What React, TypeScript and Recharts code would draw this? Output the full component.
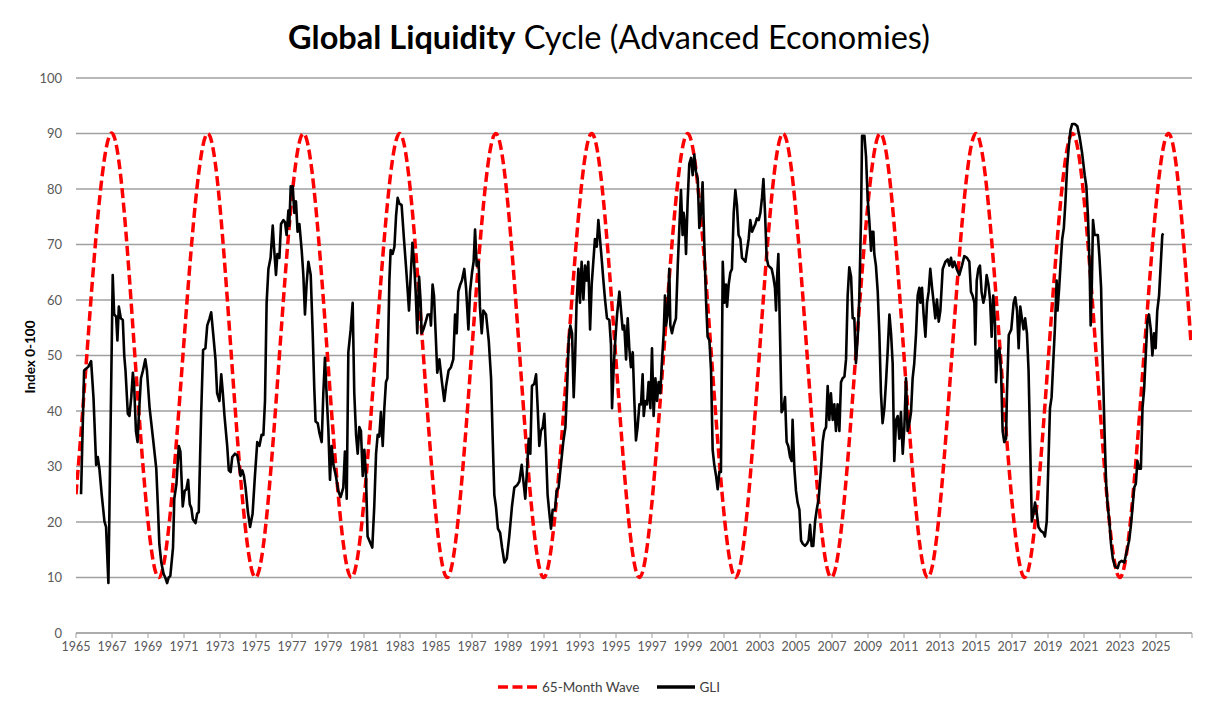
import { CartesianGrid, Line, LineChart, XAxis, YAxis } from 'recharts'

// Axis ticks
const X_TICKS = [
  1965, 1967, 1969, 1971, 1973, 1975, 1977, 1979, 1981, 1983, 1985, 1987, 1989,
  1991, 1993, 1995, 1997, 1999, 2001, 2003, 2005, 2007, 2009, 2011, 2013, 2015,
  2017, 2019, 2021, 2023, 2025, 2027,
]
const Y_TICKS = [0, 10, 20, 30, 40, 50, 60, 70, 80, 90, 100]

// 65-Month Wave: peaks, troughs and mid-crossings
const WAVE: [number, number][] = [
  [1965.0, 25], [1965.6, 50], [1966.93, 90], [1968.27, 50], [1969.6, 10],
  [1970.94, 50], [1972.32, 90], [1973.63, 50], [1974.97, 10], [1976.3, 50],
  [1977.63, 90], [1978.97, 50], [1980.3, 10], [1981.63, 50], [1982.98, 90],
  [1984.3, 50], [1985.62, 10], [1986.97, 50], [1988.32, 90], [1989.65, 50],
  [1990.98, 10], [1992.32, 50], [1993.65, 90], [1994.98, 50], [1996.3, 10],
  [1997.64, 50], [1998.98, 90], [2000.3, 50], [2001.64, 10], [2002.96, 50],
  [2004.28, 90], [2005.62, 50], [2006.96, 10], [2008.32, 50], [2009.68, 90],
  [2011.0, 50], [2012.32, 10], [2013.66, 50], [2015.0, 90], [2016.36, 50],
  [2017.7, 10], [2019.03, 50], [2020.36, 90], [2021.68, 50], [2022.99, 10],
  [2024.33, 50], [2025.68, 90], [2026.95, 52],
]

// GLI (year, index)
const GLI_1965_1974: [number, number][] = [
  [1965.28, 25], [1965.45, 47.3], [1965.69, 48], [1965.84, 49], [1965.97, 42.5],
  [1966.12, 30.3], [1966.21, 31.7], [1966.3, 29.6], [1966.43, 24.9], [1966.58, 20.1],
  [1966.67, 19.1], [1966.8, 9], [1967.04, 64.5], [1967.12, 57.4], [1967.23, 57],
  [1967.3, 52.7], [1967.38, 58.8], [1967.49, 56.7], [1967.6, 56.4], [1967.68, 50],
  [1967.75, 47.3], [1967.88, 39.5], [1967.97, 39.1], [1968.07, 42.5], [1968.16, 46.9],
  [1968.23, 44.5], [1968.33, 36.4], [1968.42, 34.4], [1968.49, 39.1], [1968.61, 45.9],
  [1968.72, 47.3], [1968.85, 49.3], [1968.94, 47.3], [1969.09, 40.5], [1969.28, 35],
  [1969.46, 29.6], [1969.55, 22.8], [1969.63, 16], [1969.74, 12.7], [1969.87, 10.6],
  [1969.96, 10], [1970.06, 9], [1970.15, 10], [1970.24, 10.3], [1970.39, 15.4],
  [1970.46, 24.2], [1970.58, 26.9], [1970.71, 33.7], [1970.8, 32.7], [1970.93, 22.8],
  [1971.04, 25.6], [1971.13, 25.9], [1971.23, 27.6], [1971.32, 23.2], [1971.41, 22.5],
  [1971.49, 20.5], [1971.64, 19.8], [1971.73, 21.5], [1971.82, 21.8], [1971.95, 39.1],
  [1972.06, 51], [1972.19, 51.3], [1972.29, 55.4], [1972.42, 56.7], [1972.51, 57.8],
  [1972.62, 54], [1972.75, 49.3], [1972.84, 43.2], [1972.97, 41.8], [1973.07, 46.6],
  [1973.16, 43.2], [1973.25, 39.1], [1973.4, 33.7], [1973.49, 29.3], [1973.59, 29],
  [1973.68, 31.7], [1973.83, 32.3], [1973.96, 32], [1974.05, 30.3], [1974.14, 28.3],
  [1974.24, 29.3], [1974.33, 28.3], [1974.42, 26.2], [1974.55, 21.8],
]

const GLI_1974_1985: [number, number][] = [
  [1974.67, 19.1], [1974.81, 21.5], [1974.94, 28.3], [1975.07, 34.4], [1975.19, 33.7],
  [1975.31, 35.7], [1975.41, 35.7], [1975.5, 41.8], [1975.59, 59.5], [1975.69, 65.6],
  [1975.81, 67.6], [1975.93, 73.4], [1976.0, 69.6], [1976.11, 64.5], [1976.19, 68.3],
  [1976.3, 67.6], [1976.39, 73.7], [1976.52, 74.4], [1976.61, 74], [1976.7, 71.7],
  [1976.8, 76.1], [1976.85, 73.4], [1976.93, 80.5], [1977.0, 79.1], [1977.04, 80.5],
  [1977.13, 75.7], [1977.22, 77.8], [1977.31, 72.3], [1977.41, 73.7], [1977.54, 68.9],
  [1977.63, 64.5], [1977.72, 57.4], [1977.81, 62.8], [1977.91, 66.9], [1978.04, 64.5],
  [1978.15, 54], [1978.24, 43.9], [1978.31, 38.1], [1978.43, 37.8], [1978.52, 36.1],
  [1978.65, 34.4], [1978.74, 43.2], [1978.83, 49.6], [1978.93, 42.5], [1979.02, 36.7],
  [1979.11, 27.6], [1979.2, 33.7], [1979.3, 30.3], [1979.44, 28.3], [1979.57, 25.6],
  [1979.7, 24.5], [1979.85, 26.2], [1979.94, 32.7], [1980.04, 24.2], [1980.13, 50.6],
  [1980.26, 54.7], [1980.37, 59.5], [1980.46, 43.2], [1980.56, 35.7], [1980.65, 32.3],
  [1980.74, 37.1], [1980.83, 36.4], [1980.93, 28.3], [1981.02, 33], [1981.11, 28.3],
  [1981.2, 17.4], [1981.33, 16.4], [1981.46, 15.4], [1981.57, 22.8], [1981.67, 32.3],
  [1981.76, 35.7], [1981.85, 35.4], [1981.94, 39.8], [1982.04, 33.7], [1982.13, 40.5],
  [1982.22, 45.2], [1982.3, 45.9], [1982.41, 63.5], [1982.48, 69], [1982.59, 68.3],
  [1982.69, 69.6], [1982.78, 75.1], [1982.87, 78.4], [1982.96, 77.4], [1983.09, 77.1],
  [1983.22, 71], [1983.33, 66.2], [1983.43, 61.5], [1983.5, 58.1], [1983.59, 64.2],
  [1983.69, 70.3], [1983.78, 66.9], [1983.87, 61.5], [1983.96, 54], [1984.06, 64.2],
  [1984.15, 59.5], [1984.2, 54], [1984.3, 54.7], [1984.43, 56.1], [1984.54, 57.4],
  [1984.67, 57.4], [1984.72, 55.4], [1984.81, 62.8], [1984.89, 60.8], [1984.98, 54],
  [1985.07, 46.9],
]

const GLI_1985_1995: [number, number][] = [
  [1985.19, 49.3], [1985.33, 45.2], [1985.46, 41.8], [1985.56, 44.5], [1985.7, 47.3],
  [1985.83, 47.9], [1985.96, 49.3], [1986.06, 57.4], [1986.15, 54], [1986.24, 61.5],
  [1986.35, 62.8], [1986.44, 63.5], [1986.57, 65.6], [1986.67, 62.2], [1986.8, 54.7],
  [1986.89, 61.5], [1987.0, 64.9], [1987.09, 66.9], [1987.17, 72.7], [1987.26, 66.2],
  [1987.37, 66.9], [1987.44, 58.8], [1987.54, 54], [1987.63, 58.1], [1987.78, 57.4],
  [1987.93, 52.7], [1988.06, 45.9], [1988.15, 35], [1988.24, 24.9], [1988.33, 22.8],
  [1988.44, 18.8], [1988.56, 18.1], [1988.67, 15.4], [1988.8, 12.7], [1988.93, 13.4],
  [1989.07, 17.4], [1989.22, 22.8], [1989.35, 26.2], [1989.5, 26.6], [1989.63, 27.3],
  [1989.76, 30.3], [1989.87, 26.9], [1989.96, 24.2], [1990.06, 29.6], [1990.15, 35],
  [1990.24, 32.3], [1990.33, 44.5], [1990.46, 44.9], [1990.56, 46.6], [1990.65, 40.5],
  [1990.74, 33.7], [1990.83, 36.4], [1990.93, 37.1], [1991.02, 39.5], [1991.11, 33],
  [1991.2, 24.9], [1991.3, 21.5], [1991.39, 18.8], [1991.48, 22.2], [1991.61, 22.2],
  [1991.7, 25.6], [1991.81, 26.2], [1991.94, 30.3], [1992.07, 34.4], [1992.19, 37.1],
  [1992.28, 43.9], [1992.37, 52.7], [1992.46, 55.4], [1992.56, 54], [1992.65, 42.5],
  [1992.72, 48.6], [1992.81, 59.5], [1992.91, 65.6], [1993.0, 59.5], [1993.09, 66.9],
  [1993.19, 60.1], [1993.28, 66.2], [1993.37, 63.5], [1993.46, 66.9], [1993.56, 54.7],
  [1993.65, 62.8], [1993.74, 66.9], [1993.83, 71], [1993.93, 69.6], [1994.02, 74.4],
  [1994.11, 71], [1994.2, 67.6], [1994.3, 63.5], [1994.39, 60.1], [1994.5, 56.7],
  [1994.63, 56.4], [1994.72, 52], [1994.78, 40.5], [1994.87, 47.9], [1994.96, 52.7],
  [1995.06, 57.4], [1995.19, 61.5], [1995.28, 58.1], [1995.37, 54.7], [1995.46, 55.4],
  [1995.56, 49.3], [1995.65, 56.7], [1995.74, 51.3],
]

const GLI_1995_2006: [number, number][] = [
  [1995.83, 47.9], [1995.93, 50.6], [1996.02, 41.8], [1996.11, 34.7], [1996.2, 37.1],
  [1996.3, 41.2], [1996.39, 41.2], [1996.48, 46.6], [1996.54, 39.1], [1996.63, 41.8],
  [1996.72, 41.2], [1996.81, 45.2], [1996.91, 40.5], [1997.0, 51.3], [1997.09, 39.1],
  [1997.19, 45.9], [1997.28, 41.8], [1997.37, 45.2], [1997.46, 43.2], [1997.56, 49.3],
  [1997.65, 54], [1997.72, 60.8], [1997.78, 55.4], [1997.87, 57.4], [1997.96, 65.6],
  [1998.02, 55.4], [1998.11, 54], [1998.2, 55.4], [1998.33, 56.7], [1998.43, 66.2],
  [1998.52, 73], [1998.61, 79.8], [1998.7, 71.7], [1998.76, 75.7], [1998.83, 73.7],
  [1998.89, 68.3], [1998.98, 77.8], [1999.07, 84.5], [1999.17, 85.6], [1999.26, 82.5],
  [1999.35, 86.2], [1999.44, 83.2], [1999.54, 81.8], [1999.63, 73], [1999.72, 75.7],
  [1999.81, 81.2], [1999.91, 69.6], [2000.0, 60.1], [2000.09, 53.4], [2000.19, 52.7],
  [2000.28, 47.3], [2000.37, 33], [2000.46, 30.3], [2000.56, 28.3], [2000.65, 25.9],
  [2000.74, 29], [2000.83, 29], [2000.93, 66.9], [2001.02, 59.5], [2001.11, 62.8],
  [2001.17, 58.8], [2001.26, 62.8], [2001.35, 64.9], [2001.44, 65.6], [2001.54, 75.7],
  [2001.63, 79.8], [2001.72, 77.1], [2001.81, 71.7], [2001.91, 71], [2002.0, 67.6],
  [2002.09, 67.3], [2002.19, 66.9], [2002.28, 69], [2002.37, 71], [2002.46, 74.4],
  [2002.56, 72.3], [2002.65, 73], [2002.74, 73.7], [2002.83, 74.7], [2002.93, 74.4],
  [2003.02, 75.7], [2003.11, 78.4], [2003.19, 81.8], [2003.28, 75.7], [2003.37, 67.6],
  [2003.46, 66.2], [2003.56, 65.9], [2003.65, 65.6], [2003.74, 64.2], [2003.83, 62.2],
  [2003.89, 58.1], [2003.94, 63.5], [2004.02, 68.3], [2004.11, 54], [2004.2, 39.8],
  [2004.3, 40.5], [2004.39, 42.5], [2004.48, 34.4], [2004.57, 33.7], [2004.67, 31.7],
  [2004.76, 31], [2004.81, 38.4], [2004.91, 29.6], [2005.0, 25.6], [2005.09, 23.5],
  [2005.19, 22.2], [2005.28, 16.7], [2005.37, 16.1], [2005.5, 15.7], [2005.61, 16.1],
  [2005.7, 16.7], [2005.78, 19.5], [2005.87, 15.7], [2005.96, 15.7], [2006.06, 20.1],
  [2006.15, 22.2], [2006.26, 24.2],
]

const GLI_2006_2016: [number, number][] = [
  [2006.39, 29.6], [2006.48, 34.4], [2006.57, 36.4], [2006.67, 37.1], [2006.76, 44.5],
  [2006.85, 38.4], [2006.94, 43.2], [2007.04, 38.4], [2007.13, 41.2], [2007.22, 36.4],
  [2007.31, 41.2], [2007.41, 36.4], [2007.5, 45.2], [2007.59, 45.9], [2007.69, 46.2],
  [2007.78, 49.3], [2007.87, 60.8], [2007.96, 65.9], [2008.06, 64.2], [2008.15, 56.7],
  [2008.24, 56.7], [2008.33, 48.6], [2008.43, 53.4], [2008.52, 60.8], [2008.61, 74.4],
  [2008.67, 89.6], [2008.8, 89.6], [2008.89, 85.9], [2008.98, 78.4], [2009.07, 74.4],
  [2009.17, 68.9], [2009.22, 72.3], [2009.3, 72.3], [2009.35, 68.3], [2009.44, 66.2],
  [2009.54, 61.5], [2009.63, 54], [2009.72, 43.2], [2009.81, 37.8], [2009.91, 40.5],
  [2010.0, 45.2], [2010.09, 50.6], [2010.19, 57.4], [2010.28, 54], [2010.37, 48.6],
  [2010.46, 31], [2010.56, 38.4], [2010.65, 39.1], [2010.74, 35], [2010.83, 39.8],
  [2010.93, 32.3], [2011.02, 37.1], [2011.11, 45.9], [2011.2, 36.4], [2011.3, 37.8],
  [2011.39, 39.8], [2011.48, 45.9], [2011.57, 48.6], [2011.67, 54], [2011.76, 60.8],
  [2011.85, 62.2], [2011.91, 59.5], [2012.0, 62.2], [2012.09, 57.4], [2012.19, 53.4],
  [2012.28, 59.5], [2012.37, 61.5], [2012.46, 65.6], [2012.56, 62.2], [2012.65, 59.5],
  [2012.74, 56.7], [2012.83, 60.1], [2012.93, 56.1], [2013.02, 58.1], [2013.15, 65.6],
  [2013.3, 66.9], [2013.43, 67.3], [2013.52, 66.2], [2013.61, 67.6], [2013.7, 65.9],
  [2013.8, 66.9], [2013.93, 65.6], [2014.07, 64.5], [2014.22, 66.2], [2014.35, 67.9],
  [2014.5, 67.6], [2014.63, 66.9], [2014.72, 61.5], [2014.81, 60.8], [2014.91, 59.5],
  [2014.96, 52], [2015.04, 63.5], [2015.13, 65.6], [2015.22, 66.2], [2015.31, 61.5],
  [2015.41, 59.5], [2015.5, 60.8], [2015.59, 64.5], [2015.69, 62.8], [2015.78, 60.1],
  [2015.87, 53.4], [2015.96, 60.8], [2016.06, 55.4], [2016.11, 45.2], [2016.2, 50.6],
  [2016.3, 51.3], [2016.39, 47.3], [2016.48, 36.4], [2016.57, 34.4], [2016.67, 35],
]

const GLI_2016_2025: [number, number][] = [
  [2016.72, 43.2], [2016.82, 53.7], [2016.96, 54.7], [2017.09, 59.5], [2017.18, 60.5],
  [2017.28, 58.1], [2017.37, 51.3], [2017.46, 58.8], [2017.55, 56.7], [2017.64, 54.7],
  [2017.73, 56.7], [2017.83, 54], [2017.92, 47.3], [2018.01, 33.7], [2018.1, 20.1],
  [2018.19, 21.5], [2018.28, 23.5], [2018.38, 21.5], [2018.47, 19.1], [2018.6, 18.4],
  [2018.74, 18.1], [2018.83, 17.4], [2018.93, 20.1], [2019.02, 30.3], [2019.11, 40.5],
  [2019.2, 42.5], [2019.29, 48.6], [2019.39, 55.4], [2019.48, 63.5], [2019.53, 58.1],
  [2019.62, 62.2], [2019.72, 67.6], [2019.79, 71], [2019.88, 73], [2019.97, 77.8],
  [2020.06, 83.9], [2020.16, 87.9], [2020.25, 90.6], [2020.34, 91.7], [2020.49, 91.7],
  [2020.63, 91.3], [2020.76, 89.3], [2020.89, 86.6], [2021.04, 82.5], [2021.13, 80.5],
  [2021.22, 75.1], [2021.31, 66.2], [2021.37, 55.4], [2021.44, 63.5], [2021.5, 74.4],
  [2021.59, 71.7], [2021.68, 71.7], [2021.77, 71.7], [2021.86, 67.6], [2021.95, 62.2],
  [2022.0, 54], [2022.08, 43.9], [2022.14, 36.4], [2022.23, 26.9], [2022.32, 22.8],
  [2022.41, 20.1], [2022.5, 16.1], [2022.6, 13.4], [2022.72, 12], [2022.87, 11.7],
  [2022.96, 12.7], [2023.09, 13], [2023.24, 12.7], [2023.37, 14.7], [2023.51, 16.7],
  [2023.61, 19.5], [2023.7, 22.8], [2023.79, 26.2], [2023.88, 26.9], [2023.97, 31],
  [2024.06, 29.6], [2024.16, 29.6], [2024.25, 40.5], [2024.34, 43.9], [2024.43, 50],
  [2024.52, 56.1], [2024.61, 57.4], [2024.71, 54.7], [2024.8, 50], [2024.89, 54],
  [2024.98, 51.3], [2025.07, 58.1], [2025.17, 60.8], [2025.26, 66.2], [2025.35, 71.7],
  [2025.4, 72],
]

const toRows = (pts: [number, number][]) => pts.map(([t, v]) => ({ t, v }))

const waveRows = toRows(WAVE)
const gliRows = toRows([
  ...GLI_1965_1974,
  ...GLI_1974_1985,
  ...GLI_1985_1995,
  ...GLI_1995_2006,
  ...GLI_2006_2016,
  ...GLI_2016_2025,
])

const FONT = 'Lato, "Open Sans", sans-serif'
const TICK_STYLE = { fill: '#595959', fontSize: 13, fontFamily: FONT }

export default function App() {
  return (
    <div
      style={{
        position: 'absolute',
        left: 0,
        top: 0,
        width: 1209,
        height: 712,
        background: '#fff',
        fontFamily: FONT,
      }}
    >
      <div
        style={{
          position: 'absolute',
          left: 0,
          top: 18,
          width: 1218,
          textAlign: 'center',
          fontSize: 32.5,
          lineHeight: '38px',
          color: '#000',
        }}
      >
        <b>Global Liquidity</b> Cycle (Advanced Economies)
      </div>

      <div
        style={{
          position: 'absolute',
          left: 30,
          top: 357,
          transform: 'translate(-50%, -50%) rotate(-90deg)',
          fontSize: 13.5,
          fontWeight: 700,
          whiteSpace: 'nowrap',
          color: '#000',
        }}
      >
        Index 0-100
      </div>

      <div style={{ position: 'absolute', left: 0, top: 0 }}>
        <LineChart
          width={1209}
          height={712}
          margin={{ top: 78, right: 17, bottom: 49, left: 0 }}
        >
          <CartesianGrid
            vertical={false}
            stroke="#a0a0a0"
            strokeWidth={1.5}
          />
          <XAxis
            dataKey="t"
            type="number"
            domain={[1965, 2027]}
            ticks={X_TICKS}
            allowDataOverflow
            interval={0}
            height={30}
            tickSize={5}
            tickMargin={4}
            stroke="#a0a0a0"
            tick={{ ...TICK_STYLE, fontSize: 12.5 }}
            tickFormatter={(v: number) => (v === 2027 ? '' : String(v))}
          />
          <YAxis
            type="number"
            domain={[0, 100]}
            ticks={Y_TICKS}
            interval={0}
            width={76}
            axisLine={false}
            tickLine={false}
            tickMargin={8}
            tick={TICK_STYLE}
          />
          <Line
            data={waveRows}
            dataKey="v"
            type="natural"
            stroke="#ff0000"
            strokeWidth={3.5}
            strokeDasharray="10 4.5"
            dot={false}
            activeDot={false}
            isAnimationActive={false}
          />
          <Line
            data={gliRows}
            dataKey="v"
            type="linear"
            stroke="#000"
            strokeWidth={2.6}
            strokeLinejoin="round"
            dot={false}
            activeDot={false}
            isAnimationActive={false}
          />
        </LineChart>
      </div>

      <div
        style={{
          position: 'absolute',
          left: 0,
          top: 679,
          width: 1209,
          display: 'flex',
          justifyContent: 'center',
          alignItems: 'center',
          fontSize: 13.5,
          color: '#404040',
          paddingLeft: 4,
        }}
      >
        <svg width={40} height={10} style={{ marginRight: 5 }}>
          <line x1={1} y1={5} x2={40} y2={5} stroke="#ff0000" strokeWidth={3.5} strokeDasharray="10 4.5" />
        </svg>
        <span style={{ marginRight: 18 }}>65-Month Wave</span>
        <svg width={38} height={10} style={{ marginRight: 4 }}>
          <line x1={0} y1={5} x2={38} y2={5} stroke="#000" strokeWidth={3.5} />
        </svg>
        <span>GLI</span>
      </div>
    </div>
  )
}
